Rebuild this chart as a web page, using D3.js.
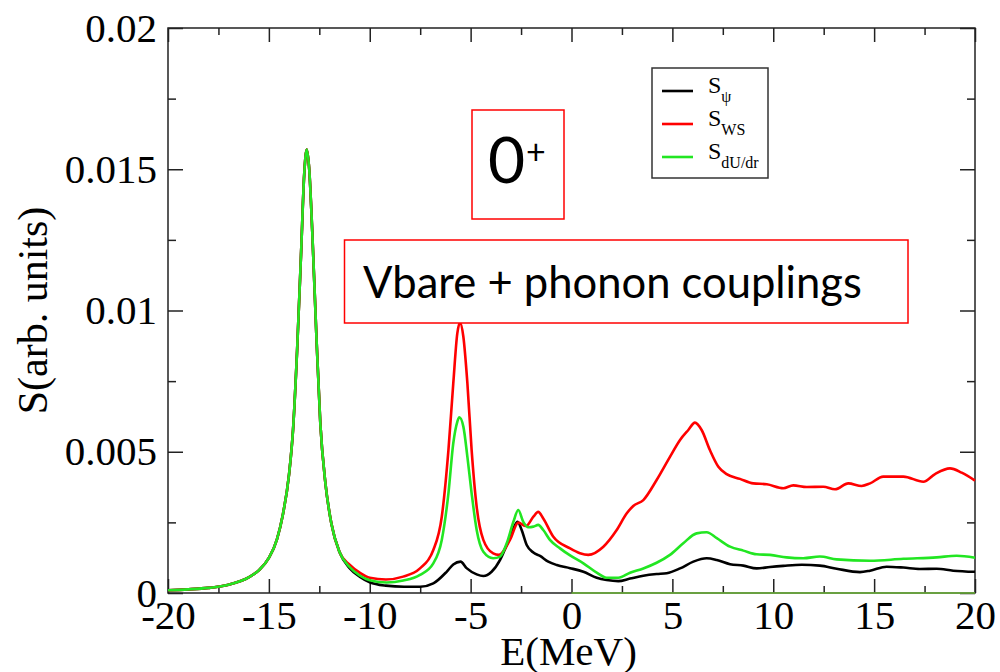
<!DOCTYPE html>
<html>
<head>
<meta charset="utf-8">
<script src="https://cdn.jsdelivr.net/npm/d3@7"></script>
<style>
  html, body { margin: 0; padding: 0; background: #fff; }
  svg { display: block; }
</style>
</head>
<body>
<svg id="chart" width="1000" height="672"></svg>
<script>
// ---------------- data ----------------
const xTicksMajor = [-20, -15, -10, -5, 0, 5, 10, 15, 20];
const xTickLabels = ["-20", "-15", "-10", "-5", "0", "5", "10", "15", "20"];
const xTicksMinor = [-17.5, -12.5, -7.5, -2.5, 2.5, 7.5, 12.5, 17.5];
const yTicksMajor = [0, 0.005, 0.01, 0.015, 0.02];
const yTickLabels = ["0", "0.005", "0.01", "0.015", "0.02"];
const yTicksMinor = [0.0025, 0.0075, 0.0125, 0.0175];

const seriesNames = ["S_psi", "S_WS", "S_dU/dr"];
const seriesColors = ["#000000", "#ff0000", "#22e622"];

// main peak region, common to the three strength functions
const mainPeak = [
  [-20, 0.00010], [-19, 0.00013], [-18, 0.00018], [-17, 0.00029], [-16, 0.00055],
  [-15.5, 0.00080], [-15, 0.00124], [-14.6, 0.0019], [-14.3, 0.0028], [-14.0, 0.0042],
  [-13.8, 0.0058], [-13.6, 0.0086], [-13.4, 0.0121], [-13.25, 0.0148], [-13.12, 0.0157],
  [-13.0, 0.0150], [-12.85, 0.0128], [-12.65, 0.0092], [-12.45, 0.0060], [-12.2, 0.0039],
  [-11.9, 0.00245], [-11.5, 0.00145]
];

const sPsiTail = [
  [-11, 0.00088], [-10.5, 0.00058], [-10, 0.00038], [-9.2, 0.00026], [-8.3, 0.00022],
  [-7.5, 0.00022], [-6.85, 0.00034], [-6.19, 0.00075], [-5.86, 0.00101], [-5.5, 0.00111],
  [-5.2, 0.00088], [-4.7, 0.00066], [-4.37, 0.0006], [-3.96, 0.00075], [-3.54, 0.00117],
  [-3.21, 0.0017], [-2.88, 0.00229], [-2.67, 0.00252], [-2.47, 0.00223], [-2.22, 0.0017],
  [-1.89, 0.00143], [-1.56, 0.00131], [-1.15, 0.00111], [-0.73, 0.00099], [-0.07, 0.00088],
  [0.59, 0.00075], [1.25, 0.00054], [1.74, 0.00046], [2.32, 0.00042], [2.9, 0.00051],
  [3.56, 0.00061], [4.22, 0.00067], [4.72, 0.0007], [5.38, 0.00087], [6.04, 0.00111],
  [6.7, 0.00123], [7.2, 0.00117], [7.86, 0.00102], [8.52, 0.00097], [9.18, 0.00087],
  [9.84, 0.00092], [10.5, 0.00096], [11.41, 0.001], [12.31, 0.00097], [13.14, 0.00086],
  [14.3, 0.00074], [14.8, 0.00079], [15.62, 0.00093], [16.45, 0.0009], [17.27, 0.00085],
  [18.1, 0.00086], [18.92, 0.00079], [20, 0.00075]
];

const sWSTail = [
  [-11, 0.0010], [-10.5, 0.00072], [-10, 0.00054], [-9.2, 0.00048], [-8.34, 0.00058],
  [-7.51, 0.00087], [-6.85, 0.00152], [-6.43, 0.0027], [-6.1, 0.00506], [-5.86, 0.00742],
  [-5.66, 0.00919], [-5.53, 0.00957], [-5.36, 0.00907], [-5.16, 0.00742], [-4.95, 0.00506],
  [-4.7, 0.00305], [-4.37, 0.00188], [-3.88, 0.0014], [-3.6, 0.00135], [-3.05, 0.00188],
  [-2.64, 0.00249], [-2.26, 0.00237], [-1.89, 0.0027], [-1.65, 0.00287], [-1.4, 0.00264],
  [-0.9, 0.00199], [-0.07, 0.00158], [0.42, 0.00141], [0.83, 0.00135], [1.58, 0.00164],
  [2.24, 0.00223], [2.74, 0.00282], [3.06, 0.00308], [3.56, 0.00329], [4.22, 0.004],
  [4.88, 0.00482], [5.38, 0.00542], [5.79, 0.00577], [6.12, 0.00603], [6.45, 0.00577],
  [6.86, 0.00506], [7.28, 0.00447], [7.69, 0.00421], [8.35, 0.00404], [9.01, 0.00388],
  [9.68, 0.00385], [10.5, 0.00371], [10.99, 0.00381], [11.66, 0.00375], [12.48, 0.00376],
  [13.06, 0.00367], [13.72, 0.00388], [14.38, 0.00379], [14.8, 0.00388], [15.45, 0.00412],
  [16.45, 0.00412], [17.44, 0.00394], [18.02, 0.00421], [18.76, 0.00441], [19.34, 0.00426],
  [20, 0.00398]
];

const sdUdrTail = [
  [-11, 0.00092], [-10.5, 0.00062], [-10, 0.00045], [-9.16, 0.00037], [-8.34, 0.00044],
  [-7.51, 0.00064], [-6.85, 0.00105], [-6.43, 0.00188], [-6.1, 0.00353], [-5.86, 0.0053],
  [-5.66, 0.00606], [-5.56, 0.00622], [-5.36, 0.00589], [-5.16, 0.00482], [-4.95, 0.00353],
  [-4.7, 0.00223], [-4.37, 0.00146], [-3.88, 0.00123], [-3.54, 0.00129], [-3.21, 0.00176],
  [-2.88, 0.00252], [-2.64, 0.00294], [-2.39, 0.00252], [-2.14, 0.00233], [-1.89, 0.00235],
  [-1.65, 0.00241], [-1.4, 0.00223], [-1.07, 0.00188], [-0.57, 0.00158], [-0.07, 0.00133],
  [0.59, 0.00105], [1.25, 0.00072], [1.74, 0.00054], [2.32, 0.00054], [2.9, 0.00072],
  [3.56, 0.00087], [4.22, 0.00107], [4.88, 0.00135], [5.54, 0.00176], [6.2, 0.00211],
  [6.7, 0.00215], [7.2, 0.00194], [7.86, 0.00164], [8.52, 0.0015], [9.18, 0.00137],
  [9.84, 0.00135], [10.66, 0.00126], [11.49, 0.00123], [12.31, 0.00129], [13.14, 0.00119],
  [14.8, 0.00114], [16.45, 0.00121], [18.1, 0.00126], [19.09, 0.00132], [20, 0.00125]
];

// a zero-valued green segment drawn along the axis for E >= 0
const greenBaseline = [[0, 0], [20, 0]];

// ---------------- drawing ----------------
const svg = d3.select("#chart");
const plot = { left: 168, right: 975, top: 28, bottom: 593 };

const x = d3.scaleLinear().domain([-20, 20]).range([plot.left, plot.right]);
const y = d3.scaleLinear().domain([0, 0.02]).range([plot.bottom, plot.top]);

const serif = "'Liberation Serif', 'Times New Roman', serif";
const axisColor = "#222";

const line = d3.line().x(d => x(d[0])).y(d => y(d[1])).curve(d3.curveMonotoneX);
const allSeries = [
  mainPeak.concat(sPsiTail),
  mainPeak.concat(sWSTail),
  mainPeak.concat(sdUdrTail)
];

function styleAxis(g) {
  g.select(".domain").remove();
  g.selectAll(".tick line").attr("stroke", axisColor).attr("stroke-width", 1.5);
  g.selectAll(".tick text")
    .attr("font-family", serif)
    .attr("font-size", 41)
    .attr("fill", "#000");
}

// bottom major + labels
svg.append("g")
  .attr("transform", `translate(0,${plot.bottom})`)
  .call(d3.axisBottom(x).tickValues(xTicksMajor).tickSizeInner(-14).tickSizeOuter(0)
    .tickPadding(7).tickFormat((d, i) => xTickLabels[i]))
  .call(styleAxis);
svg.append("g")
  .attr("transform", `translate(0,${plot.bottom})`)
  .call(d3.axisBottom(x).tickValues(xTicksMinor).tickSizeInner(-7).tickSizeOuter(0).tickFormat(""))
  .call(styleAxis);
// top mirror
svg.append("g")
  .attr("transform", `translate(0,${plot.top})`)
  .call(d3.axisTop(x).tickValues(xTicksMajor).tickSizeInner(-14).tickSizeOuter(0).tickFormat(""))
  .call(styleAxis);
svg.append("g")
  .attr("transform", `translate(0,${plot.top})`)
  .call(d3.axisTop(x).tickValues(xTicksMinor).tickSizeInner(-7).tickSizeOuter(0).tickFormat(""))
  .call(styleAxis);
// left major + labels
svg.append("g")
  .attr("transform", `translate(${plot.left},0)`)
  .call(d3.axisLeft(y).tickValues(yTicksMajor).tickSizeInner(-15).tickSizeOuter(0)
    .tickPadding(11).tickFormat((d, i) => yTickLabels[i]))
  .call(styleAxis);
svg.append("g")
  .attr("transform", `translate(${plot.left},0)`)
  .call(d3.axisLeft(y).tickValues(yTicksMinor).tickSizeInner(-8).tickSizeOuter(0).tickFormat(""))
  .call(styleAxis);
// right mirror
svg.append("g")
  .attr("transform", `translate(${plot.right},0)`)
  .call(d3.axisRight(y).tickValues(yTicksMajor).tickSizeInner(-15).tickSizeOuter(0).tickFormat(""))
  .call(styleAxis);
svg.append("g")
  .attr("transform", `translate(${plot.right},0)`)
  .call(d3.axisRight(y).tickValues(yTicksMinor).tickSizeInner(-8).tickSizeOuter(0).tickFormat(""))
  .call(styleAxis);

// frame
svg.append("rect")
  .attr("x", plot.left).attr("y", plot.top)
  .attr("width", plot.right - plot.left).attr("height", plot.bottom - plot.top)
  .attr("fill", "none").attr("stroke", axisColor).attr("stroke-width", 1.5);

// green baseline segment
svg.append("path")
  .datum(greenBaseline)
  .attr("d", d3.line().x(d => x(d[0])).y(d => y(d[1])))
  .attr("fill", "none").attr("stroke", "#6fb83a").attr("stroke-width", 1.6);

// series
svg.append("g").selectAll("path")
  .data(allSeries)
  .join("path")
  .attr("d", line)
  .attr("fill", "none")
  .attr("stroke", (d, i) => seriesColors[i])
  .attr("stroke-width", 2.6)
  .attr("stroke-linejoin", "round");

// axis titles
svg.append("text")
  .attr("x", (plot.left + plot.right) / 2 - 3).attr("y", 665)
  .attr("text-anchor", "middle")
  .attr("font-family", serif).attr("font-size", 41)
  .text("E(MeV)");
svg.append("text")
  .attr("transform", `translate(47,${(plot.top + plot.bottom) / 2}) rotate(-90)`)
  .attr("text-anchor", "middle")
  .attr("font-family", serif).attr("font-size", 42)
  .text("S(arb. units)");

// legend
const legend = svg.append("g");
legend.append("rect")
  .attr("x", 652).attr("y", 68).attr("width", 116).attr("height", 110)
  .attr("fill", "#fff").attr("stroke", "#333").attr("stroke-width", 1.5);
const legendSubs = ["\u03C8", "WS", "dU/dr"];
const legendY = [91, 124, 157];
legendSubs.forEach((sub, i) => {
  legend.append("line")
    .attr("x1", 662).attr("x2", 693).attr("y1", legendY[i]).attr("y2", legendY[i])
    .attr("stroke", seriesColors[i]).attr("stroke-width", 2.6);
  const t = legend.append("text")
    .attr("x", 708).attr("y", legendY[i] + 2)
    .attr("font-family", serif).attr("font-size", 24);
  t.append("tspan").text("S");
  t.append("tspan").attr("dy", 9).attr("font-size", 16).text(sub);
});

// annotation boxes
const sans = "Lato, 'Open Sans', sans-serif";
svg.append("rect")
  .attr("x", 472).attr("y", 110).attr("width", 92).attr("height", 109)
  .attr("fill", "#fff").attr("stroke", "#ff0000").attr("stroke-width", 1.5);
svg.append("text")
  .attr("x", 488).attr("y", 183)
  .attr("font-family", sans).attr("font-size", 64)
  .text("0");
svg.append("text")
  .attr("x", 526).attr("y", 164)
  .attr("font-family", sans).attr("font-size", 34)
  .text("+");

svg.append("rect")
  .attr("x", 344.5).attr("y", 240).attr("width", 563.5).attr("height", 83)
  .attr("fill", "#fff").attr("stroke", "#ff0000").attr("stroke-width", 1.5);
const vb = svg.append("text")
  .attr("x", 363).attr("y", 298)
  .attr("font-family", sans).attr("font-size", 44)
  .text("Vbare + phonon couplings");
const w0 = vb.node().getComputedTextLength();
if (w0 > 0) vb.attr("font-size", 44 * 499 / w0);
</script>
</body>
</html>
